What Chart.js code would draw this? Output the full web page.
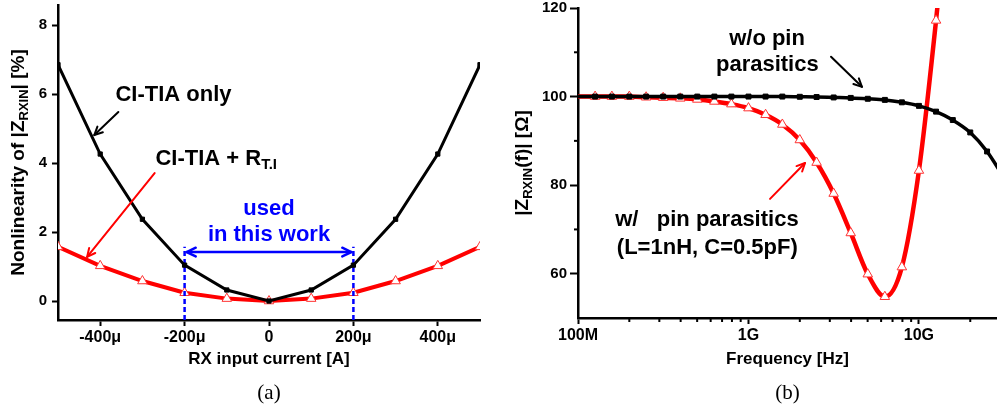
<!DOCTYPE html>
<html>
<head>
<meta charset="utf-8">
<script src="https://cdn.jsdelivr.net/npm/chart.js@4.4.1/dist/chart.umd.min.js"></script>
<style>
  html, body { margin: 0; padding: 0; background: #fff; }
  #wrap { position: relative; width: 997px; height: 409px; overflow: hidden; }
  #ca { position: absolute; left: 0; top: 0; width: 500px; height: 409px; }
  #cb { position: absolute; left: 500px; top: 0; width: 497px; height: 409px; }
</style>
</head>
<body>
<div id="wrap">
  <canvas id="ca" width="500" height="409"></canvas>
  <canvas id="cb" width="497" height="409"></canvas>
</div>
<script>
// (a) nonlinearity of |Z_RXIN| vs RX input current (in µA)
const currentUA = [-500, -400, -300, -200, -100, 0, 100, 200, 300, 400, 500]
const ciTiaOnly = [6.85, 4.26, 2.37, 1.04, 0.32, 0, 0.32, 1.04, 2.37, 4.26, 6.85]
const ciTiaRti = [1.57, 1.02, 0.58, 0.24, 0.07, 0, 0.07, 0.24, 0.58, 1.02, 1.57]
const currentTicks = [-400, -200, 0, 200, 400]
const currentTickLabels = ['-400μ', '-200μ', '0', '200μ', '400μ']
const nonlinTicks = [0, 2, 4, 6, 8]
const usedRange = [-200, 200]

// (b) |Z_RXIN(f)| vs frequency
const freqHz = [1e8, 1.26e8, 1.58e8, 2e8, 2.51e8, 3.16e8, 3.98e8, 5.01e8, 6.31e8, 7.94e8,
  1e9, 1.26e9, 1.58e9, 2e9, 2.51e9, 3.16e9, 3.98e9, 5.01e9, 6.31e9, 7.94e9,
  1e10, 1.26e10, 1.58e10, 2e10, 2.51e10, 3.16e10]
const zNoPin = [100, 100, 100, 100, 100, 100, 100, 100, 100, 100,
  100, 100, 100, 99.95, 99.9, 99.8, 99.7, 99.5, 99.25, 98.7,
  97.9, 96.6, 94.7, 91.9, 87.6, 81.6]
const zWithPin = [100, 100, 100, 100, 99.85, 99.75, 99.6, 99.35, 98.9, 98.3,
  97.4, 95.9, 93.7, 90.2, 85.1, 78.1, 69.2, 59.9, 54.8, 61.5,
  83.3, 117.2, 155]
const freqTicks = [1e8, 1e9, 1e10]
const freqTickLabels = ['100M', '1G', '10G']
const freqMinorTicks = [2e8, 3e8, 4e8, 5e8, 6e8, 7e8, 8e8, 9e8, 2e9, 3e9, 4e9, 5e9, 6e9, 7e9, 8e9, 9e9, 2e10]
const zTicks = [60, 80, 100, 120]
const zMinorTicks = [70, 90, 110]

const FONT = '"Liberation Sans", Arial, sans-serif'

function setFont(ctx, size) {
  ctx.font = `bold ${size}px ${FONT}`
}

// parts: [text, isSubscript]
function richText(ctx, parts, x, y, size, align = 'left', color = '#000') {
  const subSize = Math.round(size * 0.68)
  let total = 0
  const widths = parts.map(([t, sub]) => {
    setFont(ctx, sub ? subSize : size)
    const w = ctx.measureText(t).width
    total += w
    return w
  })
  let cx = align === 'center' ? x - total / 2 : x
  ctx.fillStyle = color
  ctx.textBaseline = 'middle'
  ctx.textAlign = 'left'
  parts.forEach(([t, sub], i) => {
    setFont(ctx, sub ? subSize : size)
    ctx.fillText(t, cx, sub ? y + size * 0.28 : y)
    cx += widths[i]
  })
}

function arrow(ctx, x1, y1, x2, y2, color, width, head, both) {
  ctx.save()
  ctx.strokeStyle = color
  ctx.lineWidth = width
  ctx.lineCap = 'round'
  ctx.lineJoin = 'round'
  ctx.beginPath()
  ctx.moveTo(x1, y1)
  ctx.lineTo(x2, y2)
  ctx.stroke()
  const tip = (xa, ya, xb, yb) => {
    const a = Math.atan2(yb - ya, xb - xa)
    ctx.beginPath()
    ctx.moveTo(xb - head * Math.cos(a - 0.45), yb - head * Math.sin(a - 0.45))
    ctx.lineTo(xb, yb)
    ctx.lineTo(xb - head * Math.cos(a + 0.45), yb - head * Math.sin(a + 0.45))
    ctx.stroke()
  }
  tip(x1, y1, x2, y2)
  if (both) tip(x2, y2, x1, y1)
  ctx.restore()
}

function yTitle(ctx, parts, cx, cy) {
  ctx.save()
  ctx.translate(cx, cy)
  ctx.rotate(-Math.PI / 2)
  richText(ctx, parts, 0, 0, 19, 'center')
  ctx.restore()
}

function caption(ctx, text, cx, cy) {
  ctx.save()
  ctx.font = `21px "Liberation Serif", "Times New Roman", serif`
  ctx.fillStyle = '#000'
  ctx.textAlign = 'center'
  ctx.textBaseline = 'middle'
  ctx.fillText(text, cx, cy)
  ctx.restore()
}

const noPad = s => {
  s.paddingTop = 0
  s.paddingBottom = 0
  s.paddingLeft = 0
  s.paddingRight = 0
}

function axis(extra) {
  return Object.assign({
    grid: { drawOnChartArea: false, drawTicks: true, tickLength: 6, tickWidth: 2, tickColor: '#000' },
    border: { display: true, color: '#000', width: 2.5 }
  }, extra)
}

const notesA = {
  id: 'notesA',
  afterDatasetsDraw(chart) {
    const { ctx, chartArea, scales: { x, y } } = chart
    const px = v => x.getPixelForValue(v)
    const py = v => y.getPixelForValue(v)
    ctx.save()
    richText(ctx, [['CI-TIA only']], px(-364), py(5.97), 22)
    arrow(ctx, px(-357), py(5.48), px(-414), py(4.81), '#000', 2, 9)
    richText(ctx, [['CI-TIA + R'], ['T.I', true]], px(-269), py(4.12), 22)
    arrow(ctx, px(-271), py(3.71), px(-431), py(1.28), '#f00', 2, 9)
    arrow(ctx, px(-195), py(1.42), px(195), py(1.42), '#00f', 2.5, 10, true)
    richText(ctx, [['used']], px(0), py(2.67), 22, 'center', '#00f')
    richText(ctx, [['in this work']], px(0), py(1.91), 22, 'center', '#00f')
    yTitle(ctx, [['Nonlinearity of |Z'], ['RXIN', true], ['| [%]']], chartArea.left - 39, (chartArea.top + chartArea.bottom) / 2)
    caption(ctx, '(a)', (chartArea.left + chartArea.right) / 2, 393)
    ctx.restore()
  }
}

const notesB = {
  id: 'notesB',
  afterDatasetsDraw(chart) {
    const { ctx, chartArea, scales: { x, y } } = chart
    const px = v => x.getPixelForValue(v)
    const py = v => y.getPixelForValue(v)
    ctx.save()
    // minor ticks
    ctx.strokeStyle = '#000'
    ctx.lineWidth = 2
    zMinorTicks.forEach(v => {
      ctx.beginPath()
      ctx.moveTo(chartArea.left - 4, py(v))
      ctx.lineTo(chartArea.left, py(v))
      ctx.stroke()
    })
    freqMinorTicks.forEach(v => {
      ctx.beginPath()
      ctx.moveTo(px(v), chartArea.bottom)
      ctx.lineTo(px(v), chartArea.bottom + 4)
      ctx.stroke()
    })
    richText(ctx, [['w/o pin']], px(1.285e9), py(113.0), 22, 'center')
    richText(ctx, [['parasitics']], px(1.29e9), py(107.2), 22, 'center')
    arrow(ctx, px(3.05e9), py(109.0), px(4.63e9), py(102.2), '#000', 2, 9)
    richText(ctx, [['w/   pin parasitics']], px(1.654e8), py(72.2), 22)
    richText(ctx, [['(L=1nH, C=0.5pF)']], px(1.69e8), py(65.85), 22)
    arrow(ctx, px(1.338e9), py(76.9), px(2.146e9), py(85.0), '#f00', 2, 9)
    yTitle(ctx, [['|Z'], ['RXIN', true], ['(f)| [Ω]']], chartArea.left - 55, (chartArea.top + chartArea.bottom) / 2)
    caption(ctx, '(b)', (chartArea.left + chartArea.right) / 2, 393)
    ctx.restore()
  }
}

const tickFont = size => ({ family: FONT, size: size, weight: 'bold' })

new Chart(document.getElementById('ca'), {
  type: 'line',
  data: {
    datasets: [
      {
        label: 'CI-TIA only',
        data: currentUA.map((v, i) => ({ x: v, y: ciTiaOnly[i] })),
        borderColor: '#000',
        borderWidth: 3,
        pointStyle: 'rect',
        pointRadius: 3,
        pointBackgroundColor: '#000',
        pointBorderColor: '#000',
        pointBorderWidth: 1,
        tension: 0
      },
      {
        label: 'used left',
        data: [{ x: usedRange[0], y: -0.55 }, { x: usedRange[0], y: 1.57 }],
        borderColor: '#00f',
        borderWidth: 2.5,
        borderDash: [5, 3],
        pointRadius: 0
      },
      {
        label: 'used right',
        data: [{ x: usedRange[1], y: -0.55 }, { x: usedRange[1], y: 1.57 }],
        borderColor: '#00f',
        borderWidth: 2.5,
        borderDash: [5, 3],
        pointRadius: 0
      },
      {
        label: 'CI-TIA + RT.I',
        data: currentUA.map((v, i) => ({ x: v, y: ciTiaRti[i] })),
        borderColor: '#f00',
        borderWidth: 4,
        pointStyle: 'triangle',
        pointRadius: 5.5,
        pointBackgroundColor: '#fff',
        pointBorderColor: '#f33',
        pointBorderWidth: 1,
        tension: 0
      }
    ]
  },
  options: {
    responsive: false,
    animation: false,
    devicePixelRatio: 1,
    layout: { autoPadding: false, padding: { left: 0, top: 5, right: 20, bottom: 0 } },
    plugins: { legend: { display: false }, tooltip: { enabled: false } },
    scales: {
      x: axis({
        type: 'linear',
        min: -500,
        max: 500,
        afterBuildTicks: s => { s.ticks = currentTicks.map(v => ({ value: v })) },
        afterFit: s => { s.height = 89; noPad(s) },
        ticks: { color: '#000', font: tickFont(16), padding: 2, maxRotation: 0, autoSkip: false,
          callback: (v, i) => currentTickLabels[i] },
        title: { display: true, text: 'RX input current [A]', color: '#000', font: tickFont(17),
          padding: { top: 0, bottom: 39 } }
      }),
      y: axis({
        type: 'linear',
        min: -0.55,
        max: 8.58,
        afterBuildTicks: s => { s.ticks = nonlinTicks.map(v => ({ value: v })) },
        afterFit: s => { s.width = 58; noPad(s) },
        ticks: { color: '#000', font: tickFont(15), padding: 5, callback: v => String(v) }
      })
    }
  },
  plugins: [notesA]
})

new Chart(document.getElementById('cb'), {
  type: 'line',
  data: {
    datasets: [
      {
        label: 'w/o pin parasitics',
        data: freqHz.map((f, i) => ({ x: f, y: zNoPin[i] })),
        borderColor: '#000',
        borderWidth: 3.5,
        pointStyle: 'rect',
        pointRadius: ctx => ctx.dataIndex === 0 ? 0 : 3.5,
        pointBackgroundColor: '#000',
        pointBorderColor: '#000',
        pointBorderWidth: 1,
        cubicInterpolationMode: 'monotone'
      },
      {
        label: 'w/ pin parasitics',
        data: zWithPin.map((z, i) => ({ x: freqHz[i], y: z })),
        borderColor: '#f00',
        borderWidth: 4.5,
        pointStyle: 'triangle',
        pointRadius: ctx => ctx.dataIndex === 0 ? 0 : 5.5,
        pointBackgroundColor: '#fff',
        pointBorderColor: '#f33',
        pointBorderWidth: 1,
        cubicInterpolationMode: 'monotone'
      }
    ]
  },
  options: {
    responsive: false,
    animation: false,
    devicePixelRatio: 1,
    layout: { autoPadding: false, padding: { left: 0, top: 8, right: 0, bottom: 0 } },
    plugins: { legend: { display: false }, tooltip: { enabled: false } },
    scales: {
      x: axis({
        type: 'logarithmic',
        min: 1e8,
        max: 2.87e10,
        afterBuildTicks: s => { s.ticks = freqTicks.map(v => ({ value: v })) },
        afterFit: s => { s.height = 91; noPad(s) },
        ticks: { color: '#000', font: tickFont(16), padding: 2, maxRotation: 0, autoSkip: false,
          callback: (v, i) => freqTickLabels[i] },
        title: { display: true, text: 'Frequency [Hz]', color: '#000', font: tickFont(17),
          padding: { top: 0, bottom: 39 } }
      }),
      y: axis({
        type: 'linear',
        min: 50,
        max: 120,
        afterBuildTicks: s => { s.ticks = zTicks.map(v => ({ value: v })) },
        afterFit: s => { s.width = 78; noPad(s) },
        grid: { drawOnChartArea: false, drawTicks: true, tickLength: 8, tickWidth: 2, tickColor: '#000' },
        ticks: { color: '#000', font: tickFont(15), padding: 3, callback: v => String(v) }
      })
    }
  },
  plugins: [notesB]
})
</script>
</body>
</html>
